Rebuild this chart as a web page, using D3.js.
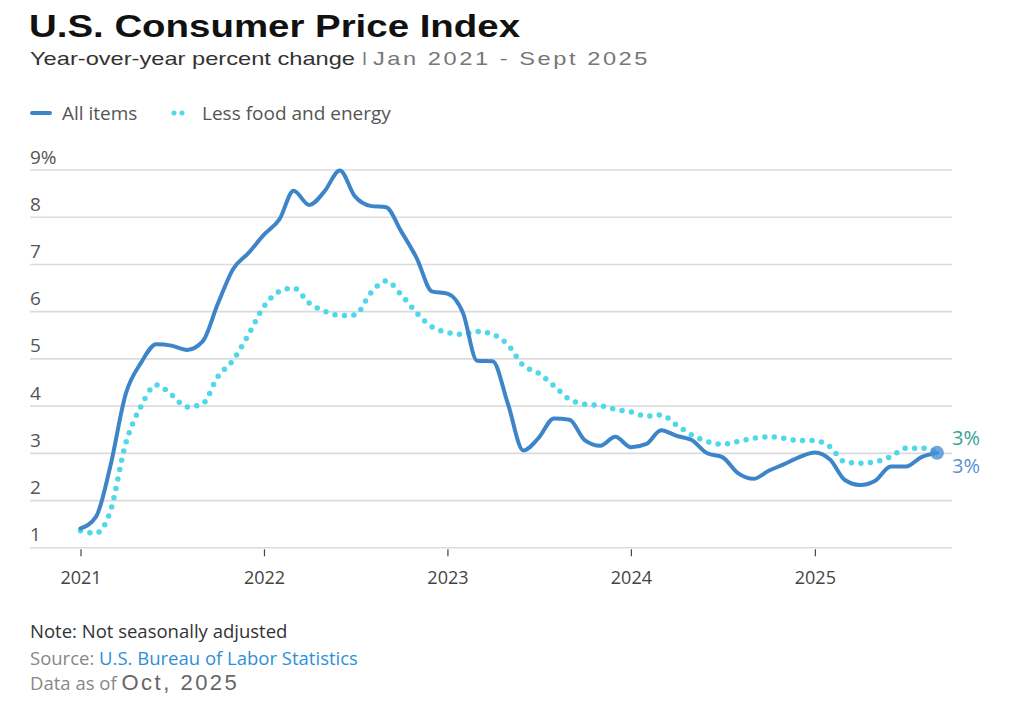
<!DOCTYPE html>
<html>
<head>
<meta charset="utf-8">
<script src="https://cdn.jsdelivr.net/npm/d3@7"></script>
<style>
  body { margin: 0; background: #fff; }
  svg { display: block; font-family: "Open Sans", sans-serif; }
</style>
</head>
<body>
<div id="data-vis"></div>
<script>
// chart values
const months = [
  "2021-01","2021-02","2021-03","2021-04","2021-05","2021-06","2021-07","2021-08","2021-09","2021-10","2021-11","2021-12",
  "2022-01","2022-02","2022-03","2022-04","2022-05","2022-06","2022-07","2022-08","2022-09","2022-10","2022-11","2022-12",
  "2023-01","2023-02","2023-03","2023-04","2023-05","2023-06","2023-07","2023-08","2023-09","2023-10","2023-11","2023-12",
  "2024-01","2024-02","2024-03","2024-04","2024-05","2024-06","2024-07","2024-08","2024-09","2024-10","2024-11","2024-12",
  "2025-01","2025-02","2025-03","2025-04","2025-05","2025-06","2025-07","2025-08","2025-09"
];
const allItems = [
  1.4, 1.65, 2.7, 4.25, 4.9, 5.3, 5.27, 5.18, 5.36, 6.15, 6.9, 7.23,
  7.62, 7.95, 8.55, 8.25, 8.53, 8.98, 8.43, 8.23, 8.2, 7.69, 7.12, 6.42,
  6.37, 5.96, 4.95, 4.94, 4.05, 3.05, 3.31, 3.73, 3.7, 3.27, 3.15, 3.34,
  3.12, 3.19, 3.48, 3.36, 3.27, 2.99, 2.91, 2.57, 2.45, 2.62, 2.76, 2.91,
  3.01, 2.85, 2.43, 2.32, 2.41, 2.71, 2.71, 2.91, 3.0
];
const coreItems = [
  1.35, 1.3, 1.75, 3.2, 3.98, 4.44, 4.23, 3.97, 4.04, 4.61, 4.97, 5.5,
  6.1, 6.42, 6.49, 6.17, 6.0, 5.91, 5.92, 6.38, 6.64, 6.35, 5.96, 5.67,
  5.55, 5.51, 5.57, 5.51, 5.29, 4.85, 4.69, 4.42, 4.13, 4.03, 4.0, 3.92,
  3.87, 3.78, 3.8, 3.59, 3.38, 3.24, 3.18, 3.24, 3.31, 3.34, 3.31, 3.26,
  3.26, 3.12, 2.81, 2.78, 2.81, 2.92, 3.1, 3.1, 3.03
];
const yTicks = [1, 2, 3, 4, 5, 6, 7, 8, 9];
const xTicks = ["2021", "2022", "2023", "2024", "2025"];
const legendLabels = ["All items", "Less food and energy"];
const endLabels = ["3%", "3%"];

const w = 1024, h = 705;
const blue = "#3d85c8", cyan = "#4fd7ea";
const parseMonth = d3.timeParse("%Y-%m");
const parseYear = d3.timeParse("%Y");

const data = months.map((m, i) => ({ date: parseMonth(m), all: allItems[i], core: coreItems[i] }));

const svg = d3.select("#data-vis").append("svg")
  .attr("width", w).attr("height", h).attr("viewBox", [0, 0, w, h]);

const x = d3.scaleTime()
  .domain(d3.extent(data, d => d.date))
  .range([80.5, 937]);
const y = d3.scaleLinear()
  .domain([1, 9])
  .range([547.3, 169.5]);

// title block (the reference type is a bit wide, so stretch to its width)
svg.append("text")
  .attr("x", 29).attr("y", 37)
  .attr("font-family", "Liberation Sans, Arial, sans-serif")
  .attr("font-weight", "bold").attr("font-size", 31)
  .attr("fill", "#111")
  .attr("textLength", 491).attr("lengthAdjust", "spacingAndGlyphs")
  .text("U.S. Consumer Price Index");

svg.append("text")
  .attr("x", 30).attr("y", 65)
  .attr("font-family", "Liberation Sans, Arial, sans-serif")
  .attr("font-size", 19).attr("fill", "#333")
  .attr("textLength", 325).attr("lengthAdjust", "spacingAndGlyphs")
  .text("Year-over-year percent change");
svg.append("text")
  .attr("x", 362).attr("y", 65)
  .attr("font-family", "Liberation Sans, Arial, sans-serif")
  .attr("font-size", 18).attr("fill", "#777")
  .text("I");
svg.append("text")
  .attr("x", 373).attr("y", 65)
  .attr("font-family", "Liberation Sans, Arial, sans-serif")
  .attr("font-size", 18.5).attr("fill", "#777")
  .attr("letter-spacing", 2)
  .attr("textLength", 277).attr("lengthAdjust", "spacingAndGlyphs")
  .text("Jan 2021 - Sept 2025");

// legend
const legend = svg.append("g").attr("font-size", 19).attr("fill", "#555");
legend.append("line")
  .attr("x1", 32).attr("x2", 50).attr("y1", 113).attr("y2", 113)
  .attr("stroke", blue).attr("stroke-width", 4).attr("stroke-linecap", "round");
legend.append("text").attr("x", 62).attr("y", 120).text(legendLabels[0]);
legend.append("line")
  .attr("x1", 174).attr("x2", 184).attr("y1", 113).attr("y2", 113)
  .attr("stroke", cyan).attr("stroke-width", 5).attr("stroke-linecap", "round")
  .attr("stroke-dasharray", "0 8");
legend.append("text").attr("x", 202).attr("y", 120).text(legendLabels[1]);

// y grid + labels
svg.append("g")
  .attr("transform", "translate(30,0)")
  .call(d3.axisRight(y).tickValues(yTicks).tickSize(922)
    .tickFormat(d => d === 9 ? d + "%" : d))
  .call(g => g.select(".domain").remove())
  .call(g => g.selectAll(".tick line").attr("stroke", "#dcdcdc").attr("stroke-width", 1.6))
  .call(g => g.selectAll(".tick text")
    .attr("x", 0).attr("dy", -6.5).attr("text-anchor", "start")
    .attr("font-family", "Open Sans, sans-serif")
    .attr("font-size", 19).attr("fill", "#555"));

// x axis
svg.append("g")
  .attr("transform", `translate(0,${y(1) + 2})`)
  .call(d3.axisBottom(x).tickValues(xTicks.map(parseYear)).tickSize(7).tickPadding(15)
    .tickFormat(d3.timeFormat("%Y")))
  .call(g => g.select(".domain").remove())
  .call(g => g.selectAll(".tick line").attr("stroke", "#444").attr("stroke-width", 1.2))
  .call(g => g.selectAll(".tick text")
    .attr("font-family", "Open Sans, sans-serif")
    .attr("font-size", 18).attr("fill", "#444"));

// lines
const curve = d3.curveMonotoneX;
const lineAll = d3.line().x(d => x(d.date)).y(d => y(d.all)).curve(curve);
const lineCore = d3.line().x(d => x(d.date)).y(d => y(d.core)).curve(curve);

svg.append("path")
  .datum(data)
  .attr("fill", "none")
  .attr("stroke", cyan).attr("stroke-width", 5.5)
  .attr("stroke-linecap", "round")
  .attr("stroke-dasharray", "0 9.5")
  .attr("d", lineCore);

svg.append("path")
  .datum(data)
  .attr("fill", "none")
  .attr("stroke", blue).attr("stroke-width", 4)
  .attr("stroke-linejoin", "round").attr("stroke-linecap", "round")
  .attr("d", lineAll);

const last = data[data.length - 1];
svg.append("circle")
  .attr("cx", x(last.date)).attr("cy", y(last.all)).attr("r", 7)
  .attr("fill", "#4a90d6").attr("opacity", 0.8);

// end labels
svg.append("text")
  .attr("x", 952).attr("y", 445)
  .attr("font-size", 20).attr("fill", "#3a9f96")
  .text(endLabels[0]);
svg.append("text")
  .attr("x", 952).attr("y", 473)
  .attr("font-size", 20).attr("fill", "#5a92d2")
  .text(endLabels[1]);

// footer
svg.append("text")
  .attr("x", 30).attr("y", 638)
  .attr("font-size", 18.5).attr("fill", "#333")
  .text("Note: Not seasonally adjusted");
const src = svg.append("text").attr("x", 30).attr("y", 665).attr("font-size", 18.5);
src.append("tspan").attr("fill", "#888").text("Source: ");
src.append("tspan").attr("fill", "#2f8fd8").text("U.S. Bureau of Labor Statistics");
const asof = svg.append("text").attr("x", 30).attr("y", 690);
asof.append("tspan").attr("font-size", 18.5).attr("fill", "#888").text("Data as of ");
asof.append("tspan").attr("font-size", 22).attr("fill", "#666")
  .attr("font-family", "Liberation Sans, Arial, sans-serif")
  .attr("letter-spacing", 2.5).text("Oct, 2025");
</script>
</body>
</html>
